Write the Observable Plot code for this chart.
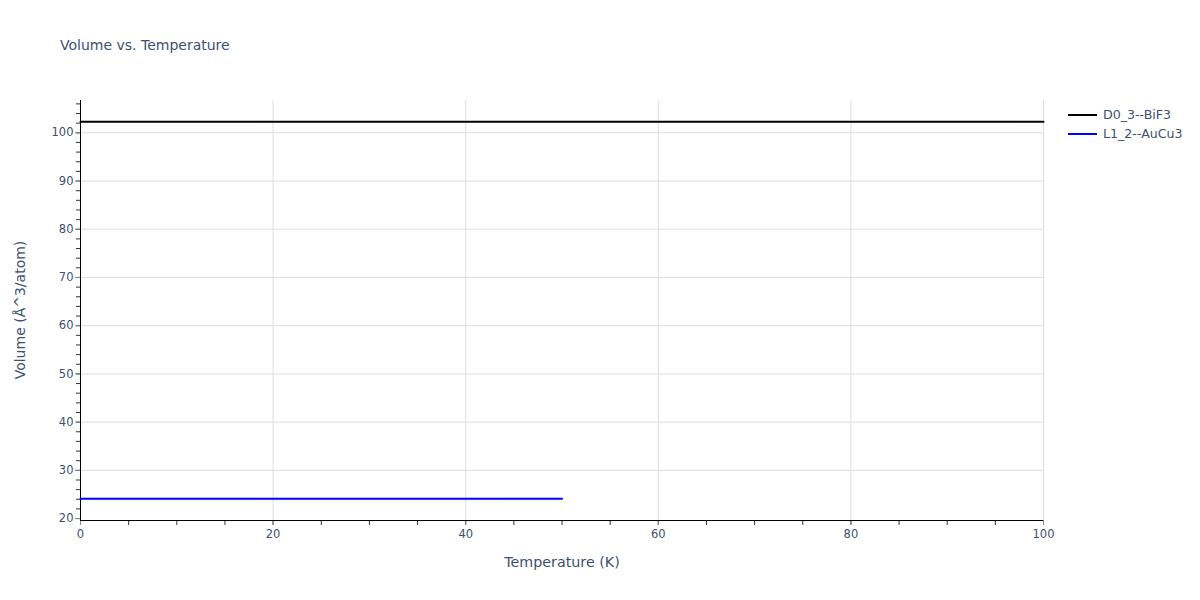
<!DOCTYPE html>
<html>
<head>
<meta charset="utf-8">
<script src="https://cdn.jsdelivr.net/npm/d3@7"></script>
<script src="https://cdn.jsdelivr.net/npm/@observablehq/plot@0.6"></script>
<style>
  html, body { margin: 0; padding: 0; background: #fff; }
  #wrap { position: relative; width: 1200px; height: 600px; font-family: "DejaVu Sans", sans-serif; color: #3d5070; }
  #title { position: absolute; left: 60px; top: 37px; font-size: 14px; }
  #legend { position: absolute; left: 1068px; top: 105px; font-size: 12.6px; }
  .li { display: flex; align-items: center; height: 19px; }
  .sw { width: 29px; height: 2px; margin-right: 6px; }
  #xtitle { position: absolute; left: 0; width: 1124px; text-align: center; top: 554px; font-size: 14.3px; }
  #ytitle { position: absolute; left: 20px; top: 310px; font-size: 14px; transform: translate(-50%, -50%) rotate(-90deg); white-space: nowrap; }
  svg { position: absolute; left: 0; top: 0; }
</style>
</head>
<body>
<div id="wrap">
  <div id="title">Volume vs. Temperature</div>
  <div id="xtitle">Temperature (K)</div>
  <div id="ytitle">Volume (Å^3/atom)</div>
  <div id="legend"></div>
</div>
<script>
const seriesNames = ["D0_3--BiF3", "L1_2--AuCu3"];
const seriesColors = ["#000000", "#0000ff"];
const tempsBiF3 = [0, 10, 20, 30, 40, 50, 60, 70, 80, 90, 100];
const volBiF3 = [102.3, 102.3, 102.3, 102.3, 102.3, 102.3, 102.3, 102.3, 102.3, 102.3, 102.3];
const tempsAuCu3 = [0, 10, 20, 30, 40, 50];
const volAuCu3 = [24.1, 24.1, 24.1, 24.1, 24.1, 24.1];
const xTicks = [0, 20, 40, 60, 80, 100];
const yTicks = [20, 30, 40, 50, 60, 70, 80, 90, 100];

const data = [
  ...tempsBiF3.map((t, i) => ({series: seriesNames[0], T: t, V: volBiF3[i]})),
  ...tempsAuCu3.map((t, i) => ({series: seriesNames[1], T: t, V: volAuCu3[i]}))
];

const xMinor = d3.range(0, 101, 5);
const yMinor = d3.range(20, 107, 2);

const plot = Plot.plot({
  width: 1200,
  height: 600,
  marginLeft: 80,
  marginRight: 157,
  marginTop: 100,
  marginBottom: 80,
  style: {fontFamily: "'DejaVu Sans', sans-serif", fontSize: "12px", color: "#3d5070", background: "transparent"},
  x: {domain: [0, 100]},
  y: {domain: [19.6, 106.7]},
  color: {domain: seriesNames, range: seriesColors},
  marks: [
    Plot.gridX(xTicks.filter(d => d > 0), {stroke: "#dddddd", strokeOpacity: 1}),
    Plot.gridY(yTicks.filter(d => d > 20), {stroke: "#dddddd", strokeOpacity: 1}),
    Plot.axisX(xMinor, {tickSize: 5, stroke: "#333", text: null, label: null}),
    Plot.axisY(yMinor, {tickSize: 4, stroke: "#333", text: null, label: null}),
    Plot.axisX(xTicks, {tickSize: 5, stroke: "#888", tickPadding: 4, label: null, fill: "#3d5070", fontSize: 11.5}),
    Plot.axisY(yTicks, {tickSize: 5, stroke: "#888", tickPadding: 2, label: null, fill: "#3d5070", fontSize: 11.5}),
    Plot.ruleX([0], {stroke: "#000", strokeWidth: 1}),
    Plot.ruleY([19.6], {stroke: "#000", strokeWidth: 1}),
    Plot.line(data, {x: "T", y: "V", z: "series", stroke: "series", strokeWidth: 2})
  ]
});
document.getElementById("wrap").appendChild(plot);

const legend = document.getElementById("legend");
seriesNames.forEach((n, i) => {
  const row = document.createElement("div");
  row.className = "li";
  const sw = document.createElement("div");
  sw.className = "sw";
  sw.style.background = seriesColors[i];
  const tx = document.createElement("span");
  tx.textContent = n;
  row.appendChild(sw);
  row.appendChild(tx);
  legend.appendChild(row);
});
</script>
</body>
</html>
